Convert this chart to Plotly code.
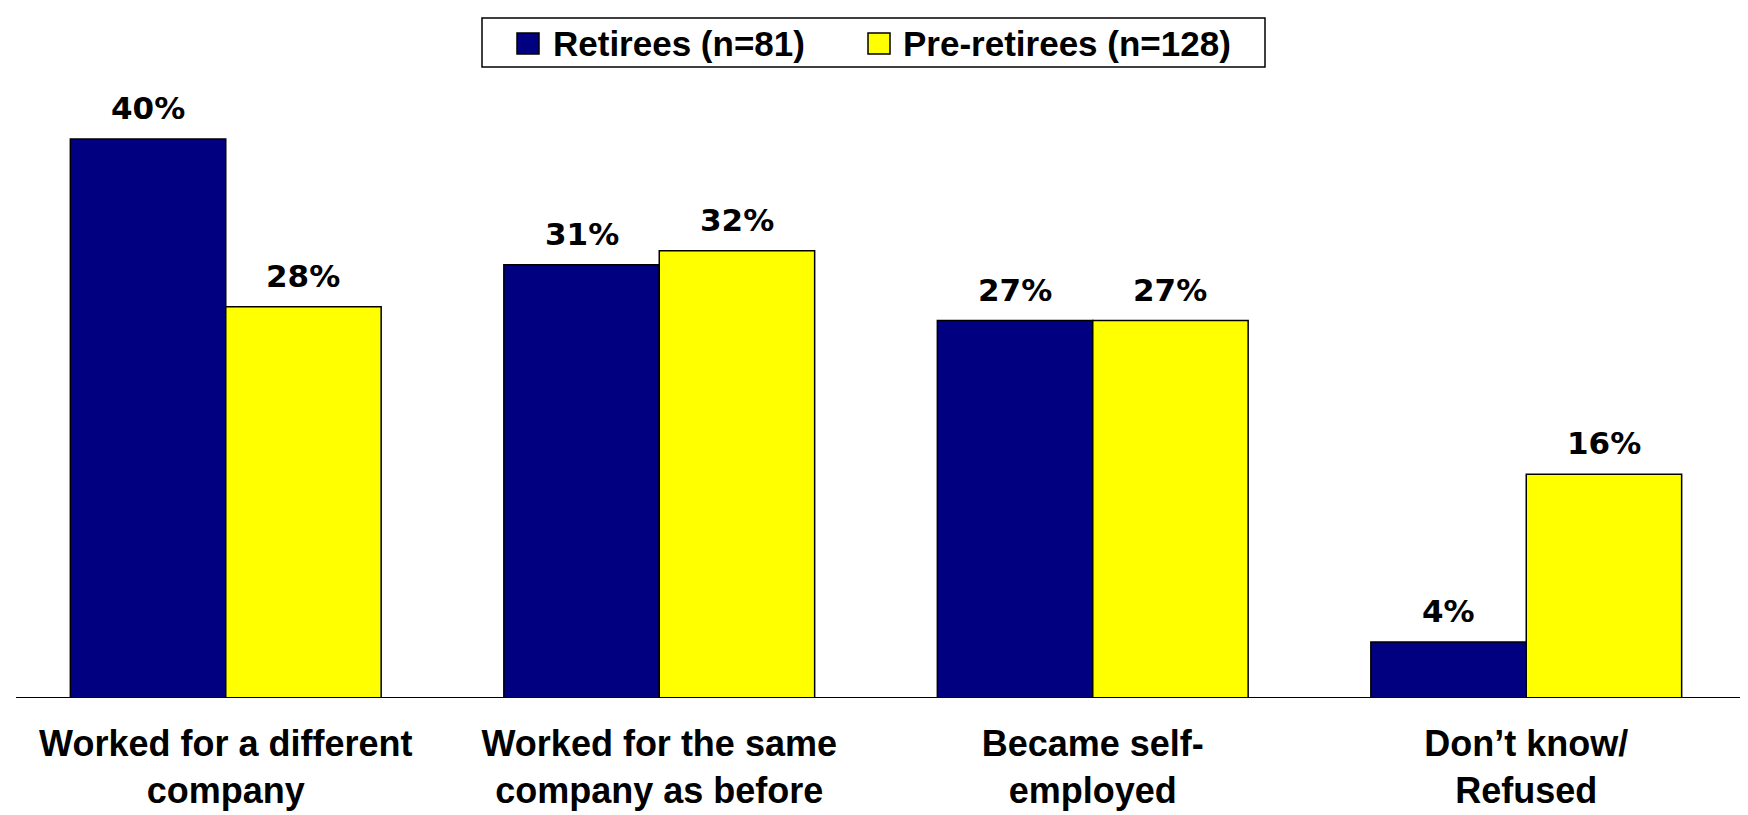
import plotly.graph_objects as go

categories = ["Worked for a different<br>company", "Worked for the same<br>company as before",
              "Became self-<br>employed", "Don\u2019t know/<br>Refused"]
series_names = ["Retirees (n=81)", "Pre-retirees (n=128)"]
retirees = [40, 31, 27, 4]
pre_retirees = [28, 32, 27, 16]
colors = ["#000080", "#FFFF00"]

W, H = 1748, 815
ML, MR, MT, MB = 1, 13, 82, 125
BARGAP = 0.283
plot_w = W - ML - MR
plot_h = H - MT - MB
bar_px = plot_w / len(categories) * (1 - BARGAP) / 2


def px_x(p):
    return (p - ML) / plot_w


def px_y(p):
    return 1 + (MT - p) / plot_h


fig = go.Figure()
for name, vals, col in zip(series_names, [retirees, pre_retirees], colors):
    fig.add_trace(go.Bar(x=categories, y=vals, name=name, showlegend=False,
                         marker=dict(color=col, line=dict(color="black", width=1.5))))

for i, vals in enumerate([retirees, pre_retirees]):
    for c, v in zip(categories, vals):
        fig.add_annotation(x=c, y=v, text=f"{v}%", showarrow=False,
                           xshift=(i - 0.5) * bar_px, yanchor="bottom", yshift=11,
                           font=dict(family="DejaVu Sans", size=31, color="black", weight="bold"))

# baseline (category axis line), extended to the right edge as in the reference
fig.add_shape(type="line", xref="paper", yref="y", x0=px_x(8), x1=px_x(W), y0=0, y1=0,
              line=dict(color="black", width=2), layer="above")

# legend (drawn manually to match the large square swatches)
fig.add_shape(type="rect", xref="paper", yref="paper",
              x0=px_x(474), x1=px_x(1257), y0=px_y(59), y1=px_y(10),
              line=dict(color="black", width=1.5), fillcolor="white", layer="below")
legend_swatch_left = [509, 860]
legend_text_left = [543, 893]
for name, col, sx, tx in zip(series_names, colors, legend_swatch_left, legend_text_left):
    fig.add_shape(type="rect", xref="paper", yref="paper",
                  x0=px_x(sx), x1=px_x(sx + 22), y0=px_y(46), y1=px_y(25),
                  line=dict(color="black", width=1.5), fillcolor=col)
    fig.add_annotation(xref="paper", yref="paper", x=px_x(tx), y=px_y(35),
                       xanchor="left", yanchor="middle", text=name, showarrow=False,
                       font=dict(family="Liberation Sans", size=35, color="black", weight="bold"))

fig.update_layout(
    width=W, height=H,
    margin=dict(l=ML, r=MR, t=MT, b=MB),
    barmode="group", bargap=BARGAP, bargroupgap=0,
    plot_bgcolor="rgba(0,0,0,0)", paper_bgcolor="white",
    font=dict(family="Liberation Sans", color="black"),
    showlegend=False,
    xaxis=dict(showline=False, ticks="",
               tickfont=dict(family="Liberation Sans", size=36, color="black", weight="bold"),
               ticklabelstandoff=21, showgrid=False, zeroline=False),
    yaxis=dict(range=[0, 43.5], visible=False, showgrid=False, zeroline=False),
)
fig.write_html("out.html")
